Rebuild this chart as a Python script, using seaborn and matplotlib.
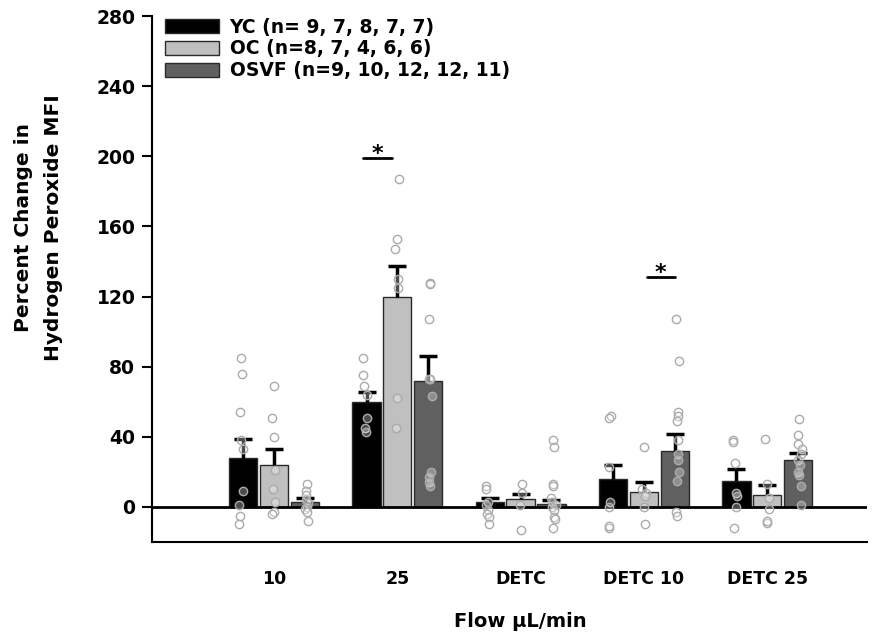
import numpy as np
import pandas as pd
import matplotlib
matplotlib.use("Agg")
import matplotlib.pyplot as plt
import seaborn as sns
from matplotlib.patches import Patch

# Categories and groups
flows = ["10", "25", "DETC", "DETC 10", "DETC 25"]
groups = ["YC", "OC", "OSVF"]
legend_labels = ["YC (n= 9, 7, 8, 7, 7)",
                 "OC (n=8, 7, 4, 6, 6)",
                 "OSVF (n=9, 10, 12, 12, 11)"]
bar_colors = ["#000000", "#c0c0c0", "#606060"]

# Group means and SEM (percent change), one value per flow condition
yc_mean = [28, 60, 3, 16, 15]
yc_sem = [11, 5.5, 2, 8, 6.6]
oc_mean = [24, 120, 4.5, 8.6, 6.8]
oc_sem = [9, 17.5, 3, 5.5, 5.7]
osvf_mean = [3, 72, 1.7, 32, 26.8]
osvf_sem = [2, 14, 2.3, 9.6, 4]

# Individual observations per flow condition
yc_points = [
    [85, 76, 54, 38, 33, 9, 1, -5, -10],
    [85, 75, 69, 64, 51, 45, 43],
    [12, 10, 3, 1, -2, -4, -6, -10],
    [52, 51, 23, 3, 0, -12, -11],
    [38, 37, 25, 8, 6, 0, -12],
]
oc_points = [
    [69, 51, 40, 21, 10, 3, -3, -4],
    [187, 153, 147, 130, 125, 62, 45],
    [13, 8, 1, -13],
    [34, 10, 8, 6, 0, -10],
    [39, 13, 5, -1, -9, -8],
]
osvf_points = [
    [13, 9, 7, 4, 2, 0, -1, -3, -8],
    [128, 127, 107, 73, 73, 63, 20, 17, 14, 12],
    [38, 34, 13, 12, 5, 3, 1, 0, -2, -6, -7, -12],
    [107, 83, 54, 52, 49, 38, 30, 27, 20, 15, -3, -5],
    [50, 41, 36, 33, 30, 27, 24, 20, 18, 12, 1],
]

# Significance brackets: (x start, x end, height)
sig_marks = [(0.72, 0.96, 199), (3.025, 3.25, 131)]

means_df = pd.DataFrame({
    "flow": flows * 3,
    "group": [g for g in groups for _ in flows],
    "mean": yc_mean + oc_mean + osvf_mean,
    "sem": yc_sem + oc_sem + osvf_sem,
})

rows = []
for g, pts in zip(groups, [yc_points, oc_points, osvf_points]):
    for f, vals in zip(flows, pts):
        for v in vals:
            rows.append((f, g, v))
points_df = pd.DataFrame(rows, columns=["flow", "group", "value"])

sns.set_theme(style="white")
plt.rcParams["font.family"] = ["DejaVu Sans"]
plt.rcParams["font.weight"] = "bold"
for key in ["text.color", "axes.labelcolor", "xtick.color", "ytick.color"]:
    plt.rcParams[key] = "black"

fig = plt.figure(figsize=(8.8, 6.42), dpi=100)
ax = fig.add_axes([152 / 880, 1 - 542 / 642, (867 - 152) / 880, (542 - 16) / 642])

sns.barplot(data=means_df, x="flow", y="mean", hue="group", order=flows,
            hue_order=groups, palette=bar_colors, saturation=1, width=0.75,
            gap=0.08, errorbar=None, edgecolor="#2a2a2a", linewidth=1,
            legend=False, ax=ax, zorder=2)

# One-sided SEM error bars with caps
for container, g in zip(ax.containers, groups):
    sub = means_df[means_df["group"] == g]
    centers = np.array([p.get_x() + p.get_width() / 2 for p in container])
    m = sub["mean"].to_numpy()
    s = sub["sem"].to_numpy()
    ax.vlines(centers, m, m + s, color="black", lw=2.5, zorder=3)
    ax.plot(centers, m + s, ls="none", marker="_", ms=13, mew=2.5,
            color="black", zorder=3)

ax.axhline(0, color="black", lw=2, zorder=2.5)

np.random.seed(3)
n_before = len(ax.collections)
sns.stripplot(data=points_df, x="flow", y="value", hue="group", order=flows,
              hue_order=groups, dodge=True, jitter=0.06, size=6, linewidth=1,
              legend=False, ax=ax, zorder=4)
for coll in ax.collections[n_before:]:
    coll.set_facecolor((1, 1, 1, 0.3))
    coll.set_edgecolor("#ababab")
    coll.set_linewidth(1)

for x0, x1, h in sig_marks:
    ax.plot([x0, x1], [h, h], color="black", lw=2, zorder=3)
    ax.text((x0 + x1) / 2, h - 1, "*", ha="center", va="baseline",
            fontsize=16, fontweight="bold", color="black")

ax.set_xlim(-0.99, 4.81)
ax.set_ylim(-20, 280)
ax.set_yticks(range(0, 281, 40))
sns.despine(ax=ax)
for side in ["left", "bottom"]:
    ax.spines[side].set_color("black")
    ax.spines[side].set_linewidth(1.5)

ax.tick_params(axis="y", left=True, direction="out", length=7, width=1.5,
               pad=5, labelsize=13.5, colors="black")
ax.tick_params(axis="x", bottom=False, length=0, pad=20, labelsize=12.5,
               colors="black")

ax.set_xlabel("Flow µL/min", fontsize=14, fontweight="bold", color="black")
ax.set_ylabel("Percent Change in\nHydrogen Peroxide MFI", fontsize=14.5,
              fontweight="bold", linespacing=1.75, color="black")
ax.xaxis.set_label_coords(0.515, -0.152)
ax.xaxis.label.set_va("center")
ax.yaxis.set_label_coords(-0.159, 0.597)
ax.yaxis.label.set_va("center")

handles = [Patch(facecolor=c, edgecolor="#2a2a2a", linewidth=1) for c in bar_colors]
leg = ax.legend(handles, legend_labels, loc="upper left",
                bbox_to_anchor=(0.018, 0.997), frameon=False,
                prop={"weight": "bold", "size": 13.5}, handlelength=2.9,
                handleheight=0.75, handletextpad=0.55, labelspacing=0.15,
                borderpad=0, borderaxespad=0)
for t in leg.get_texts():
    t.set_color("black")

fig.savefig("out.png", dpi=100)
